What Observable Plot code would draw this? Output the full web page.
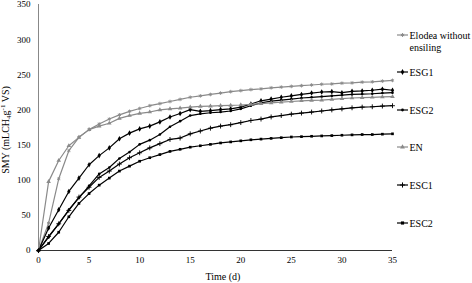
<!DOCTYPE html>
<html><head><meta charset="utf-8">
<script src="https://cdn.jsdelivr.net/npm/d3@7"></script>
<script src="https://cdn.jsdelivr.net/npm/@observablehq/plot@0.6"></script>
<style>body{margin:0;background:#fff} #chart svg{font-family:"Liberation Serif",serif}</style>
</head><body><div id="chart"></div>
<script>
const days = d3.range(0, 36);
const xTicks = [0, 5, 10, 15, 20, 25, 30, 35];
const yTicks = [0, 50, 100, 150, 200, 250, 300, 350];
const seriesNames = ["Elodea without ensiling", "ESG1", "ESG2", "EN", "ESC1", "ESC2"];
const elodea = [0,39,102,142,161,172,180,187,193,198,202,206,209,212,215,218,220,222,224,226,227.5,229,230,231.5,232.5,233.5,234.5,235.5,236.5,237,238,238.5,239.5,240,241,242];
const esg1 = [0,32,58,84,103,122,135,146,159,167,173,177,183,190,195,200.5,198,199,200.5,201.5,204,208.5,213,215.5,218,220,222,224,225.5,226,224.5,226.5,227,228,229.5,228];
const esg2 = [0,19,38,58,75,92,109,118,131,140,151,157,165,176,184,192,194.5,196,197,198.5,201.5,206,210,212.5,214,215.5,217,218,219,220,221,222,222.5,223,224,224.5];
const en = [0,98,128,149,161,172,177,181,188,192,195,197,200,201.5,202.5,204,205,205.5,206,206.5,207,208,209,210,211,212,213,213.5,214,215,216,217,217.5,218,218.5,219];
const esc1 = [0,20,38,57,76,90,104,113,123,132,139,146,152,158,160,166,170,174,177,179,182,185,187,190,192,194,195.5,197,198.5,200,201.5,203,204,204.5,205.5,206];
const esc2 = [0,10,26,48,67,81,93,103,113,120,127,132,136.5,141,144,147,149,151,153,154.5,156,157.5,158.5,159.5,160.5,161.5,162,162.5,163,163.5,164,164.5,165,165,165.5,166];

const GRAY = "#8a8a8a", BLACK = "#000";
const series = [
  {name: seriesNames[0], values: elodea, color: GRAY, symbol: "asterisk", filled: false},
  {name: seriesNames[1], values: esg1, color: BLACK, symbol: "diamond", filled: true},
  {name: seriesNames[2], values: esg2, color: BLACK, symbol: "circle", filled: true},
  {name: seriesNames[3], values: en, color: GRAY, symbol: "triangle", filled: true},
  {name: seriesNames[4], values: esc1, color: BLACK, symbol: "plus", filled: false},
  {name: seriesNames[5], values: esc2, color: BLACK, symbol: "square", filled: true}
];
const tables = series.map(s => days.map((d, i) => ({day: d, v: s.values[i], series: s.name})));

const marks = [
  Plot.ruleX([0], {y1: 0, y2: 350, stroke: "#888", strokeWidth: 1}),
  Plot.ruleY([0], {x1: 0, x2: 35, stroke: "#333", strokeWidth: 1}),
  Plot.axisX({ticks: xTicks, tickSize: 0, tickPadding: 6, fontSize: 9, label: null}),
  Plot.axisY({ticks: yTicks, tickSize: 0, tickPadding: 8, fontSize: 9, label: null})
];
series.forEach((s, k) => {
  marks.push(Plot.line(tables[k], {x: "day", y: "v", stroke: s.color, strokeWidth: 1.2}));
  marks.push(Plot.dot(tables[k], {x: "day", y: "v", symbol: () => s.symbol,
    r: s.symbol === "circle" ? 1.3 : s.symbol === "square" ? 1.5 : 1.7,
    fill: s.filled ? s.color : "none", stroke: s.filled ? "none" : s.color, strokeWidth: 0.9}));
});

const chart = Plot.plot({
  width: 472, height: 283,
  marginLeft: 38, marginRight: 80, marginTop: 4, marginBottom: 33,
  x: {domain: [0, 35]},
  y: {domain: [0, 350]},
  symbol: {type: "identity"},
  style: {fontFamily: "Liberation Serif", fontSize: "9px", background: "#fff", color: "#000"},
  marks
});
document.getElementById("chart").append(chart);

const svg = d3.select(chart);
// x-axis title
svg.append("text").attr("x", 223).attr("y", 280).attr("text-anchor", "middle")
  .attr("font-size", 10).attr("fill", "#000").text("Time (d)");
// y-axis title with sub/superscripts
const yl = svg.append("text").attr("transform", "translate(9,130) rotate(-90)")
  .attr("text-anchor", "middle").attr("font-size", 10).attr("fill", "#000");
yl.append("tspan").text("SMY (mLCH");
yl.append("tspan").attr("font-size", 7).attr("dy", 2).text("4");
yl.append("tspan").attr("dy", -2).text("g");
yl.append("tspan").attr("font-size", 7).attr("dy", -4).text("-1");
yl.append("tspan").attr("dy", 4).text(" VS)");

// legend
const legendRows = [35, 72, 110, 147, 185, 223];
const symMap = {asterisk: d3.symbolAsterisk, diamond: d3.symbolDiamond, circle: d3.symbolCircle, triangle: d3.symbolTriangle, plus: d3.symbolPlus, square: d3.symbolSquare};
series.forEach((s, k) => {
  const y = legendRows[k];
  const g = svg.append("g");
  g.append("line").attr("x1", 397).attr("x2", 408).attr("y1", y).attr("y2", y).attr("stroke", s.color).attr("stroke-width", 1.2);
  const area = s.symbol === "circle" ? 6 : 10;
  g.append("path").attr("d", d3.symbol(symMap[s.symbol], area)()).attr("transform", `translate(402.5,${y})`)
    .attr("fill", s.filled ? s.color : "none").attr("stroke", s.filled ? "none" : s.color);
  const t = g.append("text").attr("x", 409.5).attr("y", y + 3.5).attr("font-size", 10)
    .attr("text-anchor", "start").attr("fill", "#000");
  if (k === 0) {
    t.append("tspan").text("Elodea without");
    t.append("tspan").attr("x", 409.5).attr("dy", 12).text("ensiling");
  } else t.text(s.name);
});
</script></body></html>
